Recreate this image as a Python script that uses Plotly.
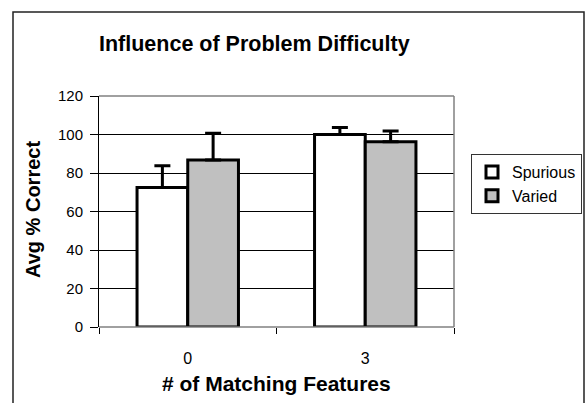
import plotly.graph_objects as go

categories = ["0", "3"]
spurious = [72.5, 100]
spurious_err = [11.3, 3.6]
varied = [86.8, 96.2]
varied_err = [13.8, 5.6]
y_ticks = [0, 20, 40, 60, 80, 100, 120]

W, H = 585, 403
L, R, T, B = 99, 454, 96, 327
pw, ph = R - L, B - T

def px(x):
    return (x - L) / pw

def py(y):
    return (B - y) / ph

font = "Liberation Sans, Arial, sans-serif"

fig = go.Figure()
fig.add_trace(go.Bar(
    name="Spurious", x=categories, y=spurious,
    marker=dict(color="#FFFFFF", line=dict(color="black", width=3)),
    error_y=dict(type="data", array=spurious_err, arrayminus=[0, 0], symmetric=False,
                 color="black", thickness=3, width=8),
))
fig.add_trace(go.Bar(
    name="Varied", x=categories, y=varied,
    marker=dict(color="#C0C0C0", line=dict(color="black", width=3)),
    error_y=dict(type="data", array=varied_err, arrayminus=[0, 0], symmetric=False,
                 color="black", thickness=3, width=8),
))

fig.update_layout(
    width=W, height=H,
    margin=dict(l=L, r=W - R, t=T, b=H - B, pad=0, autoexpand=False),
    paper_bgcolor="white", plot_bgcolor="white",
    barmode="group", bargap=0.4286, bargroupgap=0,
    font=dict(family=font, size=15, color="black"),
    showlegend=True,
    legend=dict(x=px(471), y=py(154), xanchor="left", yanchor="top",
                bordercolor="#333333", borderwidth=1, bgcolor="white",
                font=dict(size=16), itemwidth=30, tracegroupgap=0),
    xaxis=dict(type="category", showgrid=False, tickson="boundaries",
               ticks="outside", ticklen=6, tickcolor="black",
               showline=False, zeroline=False, ticklabelstandoff=20,
               tickfont=dict(size=16)),
    yaxis=dict(range=[0, 120], tickvals=y_ticks, ticktext=[str(v) for v in y_ticks],
               showgrid=True, gridcolor="black", gridwidth=1,
               ticks="outside", ticklen=8, tickcolor="black",
               showline=True, linecolor="black", linewidth=1,
               zeroline=False, ticklabelstandoff=4, tickfont=dict(size=15)),
)

# plot area border (gray) and outer chart frame
for x0, x1, y0, y1 in [(0, 1, 1, 1), (1, 1, 0, 1), (0, 1, 0, 0)]:
    fig.add_shape(type="line", xref="paper", yref="paper", x0=x0, x1=x1, y0=y0, y1=y1,
                  line=dict(color="#808080", width=1.5), layer="above")
fig.add_shape(type="rect", xref="paper", yref="paper",
              x0=px(13), x1=px(584), y0=py(420), y1=py(12),
              line=dict(color="#222222", width=1.5), layer="below")

fig.add_annotation(text="<b>Influence of Problem Difficulty</b>", xref="paper", yref="paper",
                   x=px(254), y=py(44), showarrow=False, font=dict(size=21.5),
                   xanchor="center", yanchor="middle")
fig.add_annotation(text="<b># of Matching Features</b>", xref="paper", yref="paper",
                   x=px(276), y=py(383), showarrow=False, font=dict(size=21),
                   xanchor="center", yanchor="middle")
fig.add_annotation(text="<b>Avg % Correct</b>", xref="paper", yref="paper",
                   x=px(33), y=py(210), showarrow=False, font=dict(size=20),
                   textangle=-90, xanchor="center", yanchor="middle")

fig.write_html("out.html", config={"displayModeBar": False},
               post_script="document.body.style.margin='0';document.body.style.overflow='hidden';")
